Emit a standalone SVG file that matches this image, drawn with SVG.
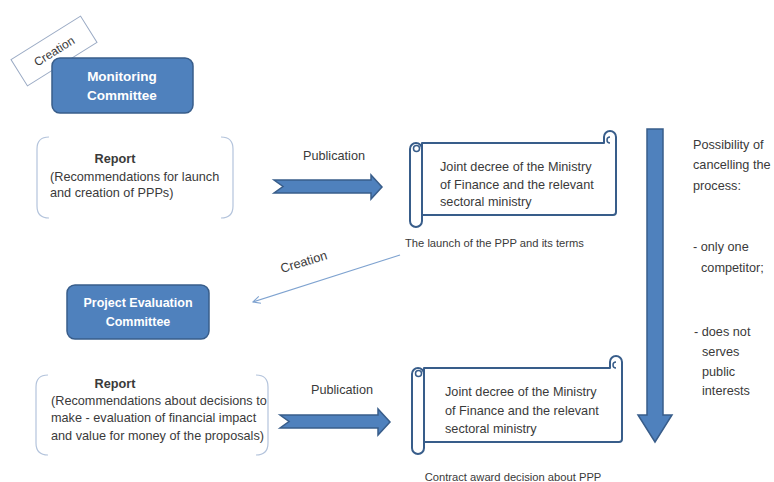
<svg xmlns="http://www.w3.org/2000/svg" width="774" height="482" viewBox="0 0 774 482">
<style>
text{font-family:"Liberation Sans",Arial,sans-serif;fill:#3a3a3a;font-size:12.7px}
.w{fill:#ffffff;font-weight:bold;font-size:12.5px}
.w2{font-size:13.5px}
.b{font-weight:bold}
.c{text-anchor:middle}
.sm{font-size:11.2px}
.blue{fill:#4f81bd;stroke:#385d8a;stroke-width:1.5}
.scr{fill:#ffffff;stroke:#385d8a;stroke-width:2;stroke-linejoin:round}
.br{fill:none;stroke:#b4c4dc;stroke-width:1.2}
</style>
<defs>
<marker id="open" viewBox="0 0 10 10" refX="9" refY="5" markerWidth="9" markerHeight="9" orient="auto" markerUnits="userSpaceOnUse">
<path d="M1,1 L9,5 L1,9" fill="none" stroke="#7fa3d0" stroke-width="1.2"/>
</marker>
</defs>
<rect width="774" height="482" fill="#ffffff"/>

<g id="creation-tag" transform="translate(54,51) rotate(-32)">
<rect x="-41" y="-15.5" width="82" height="31" fill="#ffffff" stroke="#9aaac4" stroke-width="1"/>
<text class="c" x="0" y="4.5" style="font-size:12px">Creation</text>
</g>

<g id="monitoring-committee">
<rect class="blue" x="52" y="58" width="141" height="55" rx="8"/>
<text class="w w2 c" x="122" y="81">Monitoring</text>
<text class="w w2 c" x="122" y="100">Committee</text>
</g>

<g id="report1">
<path class="br" d="M49,137 Q37,137 37,149 L37,206 Q37,218 49,218 M221,137 Q233,137 233,149 L233,206 Q233,218 221,218"/>
<text class="b c" x="115" y="163">Report</text>
<text x="50" y="181">(Recommendations for launch</text>
<text x="50" y="197">and creation of PPPs)</text>
</g>

<g id="decree1">
<path class="scr" d="M422,143 L604,143 L604,137 A6,6 0 0 1 616,137 L616,212 Q616,215 613,215 L422,215 Z"/>
<path fill="none" stroke="#385d8a" stroke-width="1.5" d="M610,143 A3,3 0 0 1 610,137"/>
<path class="scr" d="M410,149 A6,6 0 0 1 422,149 L422,221 A6,6 0 0 1 410,221 Z"/>
<circle cx="416.5" cy="148.5" r="3" fill="none" stroke="#385d8a" stroke-width="1.5"/>
<text x="440" y="171">Joint decree of the Ministry</text>
<text x="440" y="189">of Finance and the relevant</text>
<text x="440" y="206">sectoral ministry</text>
<text class="sm" x="405" y="247">The launch of the PPP and its terms</text>
</g>

<g id="pe-committee">
<rect class="blue" x="67" y="285" width="142" height="54" rx="8"/>
<text class="w c" x="138" y="307">Project Evaluation</text>
<text class="w c" x="138" y="326">Committee</text>
</g>

<g id="report2">
<path class="br" d="M48,375 Q36,375 36,387 L36,443 Q36,455 48,455 M256,375 Q268,375 268,387 L268,443 Q268,455 256,455"/>
<text class="b c" x="115" y="388">Report</text>
<text x="51" y="405">(Recommendations about decisions to</text>
<text x="51" y="422">make - evaluation of financial impact</text>
<text x="51" y="440">and value for money of the proposals)</text>
</g>

<g id="decree2">
<path class="scr" d="M424,368 L610,368 L610,362 A6,6 0 0 1 622,362 L622,439 Q622,442 619,442 L424,442 Z"/>
<path fill="none" stroke="#385d8a" stroke-width="1.5" d="M616,368 A3,3 0 0 1 616,362"/>
<path class="scr" d="M412,374 A6,6 0 0 1 424,374 L424,448 A6,6 0 0 1 412,448 Z"/>
<circle cx="418.5" cy="373.5" r="3" fill="none" stroke="#385d8a" stroke-width="1.5"/>
<text x="445" y="396">Joint decree of the Ministry</text>
<text x="445" y="415">of Finance and the relevant</text>
<text x="445" y="433">sectoral ministry</text>
<text class="sm c" x="513" y="481">Contract award decision about PPP</text>
</g>

<g id="cancel-note">
<text x="693" y="149">Possibility of</text>
<text x="693" y="169">cancelling the</text>
<text x="693" y="190">process:</text>
<text x="693" y="251">- only one</text>
<text x="701" y="272">competitor;</text>
<text x="694" y="336">- does not</text>
<text x="702" y="356">serves</text>
<text x="702" y="376">public</text>
<text x="702" y="395">interests</text>
</g>

<g id="connectors">
<path class="blue" d="M274,180 L371,180 L371,175 L382,187 L371,199 L371,193 L274,193 L283,186.5 Z"/>
<text class="c" x="334" y="160">Publication</text>
<path class="blue" d="M280,415 L378,415 L378,409 L390,422 L378,435 L378,428 L280,428 L289,421.5 Z"/>
<text class="c" x="342" y="394">Publication</text>
<path class="blue" d="M647,129 L663,129 L663,415 L672,415 L655,442 L638,415 L647,415 Z"/>
<line x1="400" y1="255" x2="253" y2="302" stroke="#7fa3d0" stroke-width="1.2" marker-end="url(#open)"/>
<text transform="translate(305,266) rotate(-17)" class="c">Creation</text>
</g>
</svg>
